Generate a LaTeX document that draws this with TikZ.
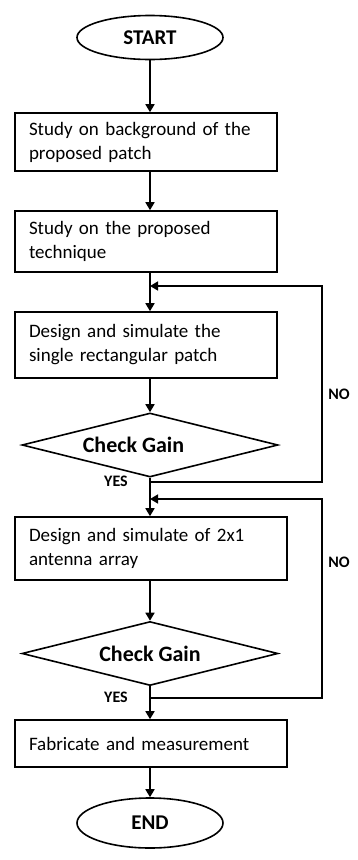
\documentclass[tikz,border=0pt]{standalone}
\usepackage{fontspec}
\setmainfont{Carlito}
\usetikzlibrary{arrows.meta,shapes.geometric}

\begin{document}
\begin{tikzpicture}[x=1pt,y=-1pt,line width=1.6pt,
  flow/.style={-{Triangle[width=9pt,length=8pt]}},
  term/.style={draw,ellipse,minimum width=146pt,minimum height=44pt,
               font=\fontsize{21}{24}\selectfont\bfseries},
  proc/.style={draw,rectangle,align=left,inner xsep=14pt,
               font=\fontsize{19}{24}\selectfont},
  check/.style={draw,diamond,aspect=4,inner sep=0pt,minimum width=256pt,
               minimum height=64pt,font=\fontsize{22}{24}\selectfont\bfseries},
  tag/.style={font=\fontsize{16}{17}\selectfont\bfseries}]
\useasboundingbox (0,0) rectangle (357,860);

\node[term] (start) at (150,37.5) {START};
\node[proc,text width=234pt,minimum height=58pt] (bg) at (146,142)
  {Study on background of the\\proposed patch};
\node[proc,text width=234pt,minimum height=61pt] (tech) at (146,241.5)
  {Study on the proposed\\technique};
\node[proc,text width=234pt,minimum height=66pt] (single) at (146,345)
  {Design and simulate the\\single rectangular patch};
\node[check] (gain1) at (150,445) {Check Gain\hspace*{33pt}};
\node[proc,text width=244pt,minimum height=63pt] (array) at (151,548.5)
  {Design and simulate of 2x1\\antenna array};
\node[check] (gain2) at (150,653.5) {Check Gain};
\node[proc,text width=244pt,minimum height=47pt] (fab) at (151,743.5)
  {Fabricate and measurement};
\node[term,minimum height=50pt] (end) at (150,823) {END};

% loop points
\coordinate (in1) at (150,286);
\coordinate (out1) at (150,482);
\coordinate (in2) at (150,499);
\coordinate (out2) at (150,698);
\coordinate (r1) at (322,482);
\coordinate (r1t) at (322,286);
\coordinate (r2) at (322,698);
\coordinate (r2t) at (322,499);

\draw[flow] (start) -- (start |- bg.north);
\draw[flow] (bg.south -| start) -- (start |- tech.north);
\draw[flow] (tech.south -| start) -- (start |- single.north);
\draw[flow] (single.south -| start) -- (gain1.north);
\draw[flow] (gain1.south) -- (gain1.south |- array.north);
\draw[flow] (array.south -| gain2) -- (gain2.north);
\draw[flow] (gain2.south) -- (gain2.south |- fab.north);
\draw[flow] (fab.south -| end) -- (end.north);

\draw[flow] (out1) -- (r1) -- (r1t) -- (in1);   % first NO
\draw[flow] (out2) -- (r2) -- (r2t) -- (in2);   % second NO

\node[tag] (yes1) at (116,481) {YES};
\node[tag] (yes2) at (116,697) {YES};
\node[tag] (no1) at (339,394) {NO};
\node[tag] (no2) at (339,562) {NO};
\end{tikzpicture}
\end{document}
